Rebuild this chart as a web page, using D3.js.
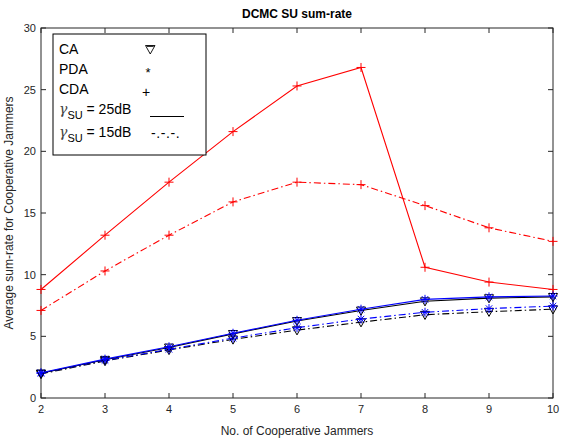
<!DOCTYPE html>
<html>
<head>
<meta charset="utf-8">
<script src="https://cdn.jsdelivr.net/npm/d3@7"></script>
<style>
  body { margin: 0; background: #fff; }
  svg { font-family: "Liberation Sans", Arial, sans-serif; }
</style>
</head>
<body>
<svg width="561" height="444"></svg>
<script>
// Data
const jammers = [2, 3, 4, 5, 6, 7, 8, 9, 10];
const caHigh  = [2.0, 3.1, 4.1, 5.2, 6.25, 7.1, 7.85, 8.1, 8.2];
const pdaHigh = [2.05, 3.15, 4.15, 5.25, 6.3, 7.2, 8.0, 8.2, 8.27];
const cdaHigh = [8.8, 13.2, 17.5, 21.6, 25.3, 26.8, 10.6, 9.4, 8.8];
const caLow   = [1.95, 3.0, 3.9, 4.75, 5.5, 6.15, 6.75, 7.0, 7.2];
const pdaLow  = [2.0, 3.05, 3.95, 4.85, 5.7, 6.4, 6.95, 7.25, 7.45];
const cdaLow  = [7.1, 10.3, 13.2, 15.9, 17.5, 17.3, 15.6, 13.8, 12.7];
const xTicks = [2, 3, 4, 5, 6, 7, 8, 9, 10];
const yTicks = [0, 5, 10, 15, 20, 25, 30];

const svg = d3.select("svg");
const margin = { top: 28, right: 8, bottom: 46, left: 41 };
const width = 561, height = 444;
const innerW = width - margin.left - margin.right;
const innerH = height - margin.top - margin.bottom;

const x = d3.scaleLinear().domain([2, 10]).range([margin.left, margin.left + innerW]);
const y = d3.scaleLinear().domain([0, 30]).range([margin.top + innerH, margin.top]);

const DASHDOT = "7,3,1.5,3";

const series = [
  { values: cdaLow,  color: "#ff0000", dash: DASHDOT, marker: "plus" },
  { values: cdaHigh, color: "#ff0000", dash: null,    marker: "plus" },
  { values: caLow,   color: "#000000", dash: DASHDOT, marker: "tri" },
  { values: pdaLow,  color: "#0000ff", dash: DASHDOT, marker: "star" },
  { values: caHigh,  color: "#000000", dash: null,    marker: "tri" },
  { values: pdaHigh, color: "#0000ff", dash: null,    marker: "star" }
];

function markerPath(type) {
  const r = 4.5;
  if (type === "plus") return `M${-r},0H${r}M0,${-r}V${r}`;
  if (type === "star") {
    const d = r * 0.72;
    return `M${-r},0H${r}M0,${-r}V${r}M${-d},${-d}L${d},${d}M${-d},${d}L${d},${-d}`;
  }
  // downward triangle
  return `M${-r},${-r * 0.75}L${r},${-r * 0.75}L0,${r * 1.05}Z`;
}

// axes box
const plot = svg.append("g");
plot.append("rect")
  .attr("x", margin.left).attr("y", margin.top)
  .attr("width", innerW).attr("height", innerH)
  .attr("fill", "none").attr("stroke", "#262626").attr("stroke-width", 1);

// ticks inside, MATLAB style
const tl = 5;
xTicks.forEach(t => {
  plot.append("line").attr("x1", x(t)).attr("x2", x(t))
    .attr("y1", y(0)).attr("y2", y(0) - tl).attr("stroke", "#262626");
  plot.append("line").attr("x1", x(t)).attr("x2", x(t))
    .attr("y1", y(30)).attr("y2", y(30) + tl).attr("stroke", "#262626");
  plot.append("text").attr("x", x(t)).attr("y", y(0) + 15)
    .attr("text-anchor", "middle").style("font-size", "11px").attr("fill", "#262626")
    .text(t);
});
yTicks.forEach(t => {
  plot.append("line").attr("x1", x(2)).attr("x2", x(2) + tl)
    .attr("y1", y(t)).attr("y2", y(t)).attr("stroke", "#262626");
  plot.append("line").attr("x1", x(10)).attr("x2", x(10) - tl)
    .attr("y1", y(t)).attr("y2", y(t)).attr("stroke", "#262626");
  plot.append("text").attr("x", x(2) - 5).attr("y", y(t) + 4)
    .attr("text-anchor", "end").style("font-size", "11px").attr("fill", "#262626")
    .text(t);
});

// lines and markers
const line = d3.line().x((d, i) => x(jammers[i])).y(d => y(d));
series.forEach(s => {
  plot.append("path")
    .attr("d", line(s.values))
    .attr("fill", "none")
    .attr("stroke", s.color)
    .attr("stroke-width", 1.1)
    .attr("stroke-dasharray", s.dash);
  plot.selectAll(null)
    .data(s.values)
    .enter()
    .append("path")
    .attr("transform", (d, i) => `translate(${x(jammers[i])},${y(d)})`)
    .attr("d", markerPath(s.marker))
    .attr("fill", "none")
    .attr("stroke", s.color)
    .attr("stroke-width", 1);
});

// title and axis labels
svg.append("text").attr("x", x(6)).attr("y", 18)
  .attr("text-anchor", "middle").style("font-size", "12px").style("font-weight", "bold")
  .text("DCMC SU sum-rate");
svg.append("text").attr("x", x(6)).attr("y", 435)
  .attr("text-anchor", "middle").style("font-size", "12px").attr("fill", "#262626")
  .text("No. of Cooperative Jammers");
svg.append("text")
  .attr("transform", `translate(13,${y(15)}) rotate(-90)`)
  .attr("text-anchor", "middle").style("font-size", "12px").attr("fill", "#262626")
  .text("Average sum-rate for Cooperative Jammers");

// legend (text style, as in the reference)
const lg = svg.append("g");
lg.append("rect").attr("x", 53).attr("y", 34).attr("width", 153).attr("height", 121)
  .attr("fill", "#fff").attr("stroke", "#000").attr("stroke-width", 1);
const rows = [
  { label: "CA", y: 54 },
  { label: "PDA", y: 74 },
  { label: "CDA", y: 94 }
];
rows.forEach(r => {
  lg.append("text").attr("x", 59).attr("y", r.y).attr("fill", "#000")
    .style("font-size", "14px").text(r.label);
});
// nabla glyph as a thin outline
lg.append("path")
  .attr("d", "M145.5,45.5L155,45.5L150.25,54Z M146.8,46.4L153.7,46.4")
  .attr("fill", "none").attr("stroke", "#000").attr("stroke-width", 0.9);
lg.append("text").attr("x", 148).attr("y", 77).attr("text-anchor", "middle")
  .attr("fill", "#000").style("font-size", "13px").text("*");
lg.append("text").attr("x", 146).attr("y", 97).attr("text-anchor", "middle")
  .attr("fill", "#000").style("font-size", "14px").text("+");

[{ db: "25dB", y: 114 }, { db: "15dB", y: 137 }].forEach(r => {
  const t = lg.append("text").attr("x", 59).attr("y", r.y).attr("fill", "#000")
    .style("font-size", "14px");
  t.append("tspan").attr("font-family", "DejaVu Serif").attr("font-style", "italic")
    .attr("fill", "#444").text("\u03b3");
  t.append("tspan").attr("dy", 5).style("font-size", "11px").text("SU");
  t.append("tspan").attr("dy", -5).text(" = " + r.db);
});
lg.append("line").attr("x1", 150).attr("x2", 184).attr("y1", 116.5).attr("y2", 116.5)
  .attr("stroke", "#000").attr("stroke-width", 1);
lg.append("text").attr("x", 151).attr("y", 138).attr("fill", "#000")
  .style("font-size", "14px").style("letter-spacing", "0.6px").text("-.-.-.");
</script>
</body>
</html>
